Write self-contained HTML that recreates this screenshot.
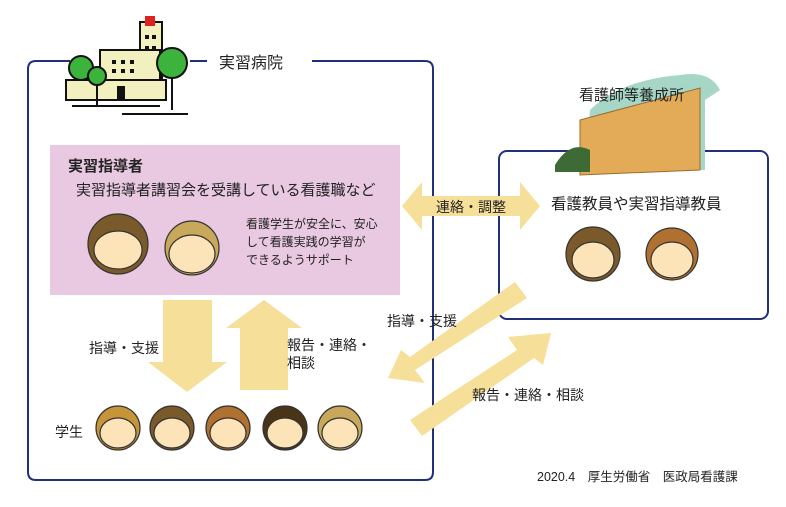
<!DOCTYPE html>
<html><head><meta charset="utf-8"><style>
body{margin:0;background:#fff;width:786px;height:502px;overflow:hidden}
text{font-family:"Liberation Sans","Noto Sans CJK JP",sans-serif;fill:#222}
</style></head><body>
<svg width="786" height="502" viewBox="0 0 786 502">
<path d="M70 61 H36 Q28 61 28 69 V472 Q28 480 36 480 H425 Q433 480 433 472 V69 Q433 61 425 61 H312" fill="none" stroke="#22307a" stroke-width="2"/>
<line x1="190" y1="61" x2="207" y2="61" stroke="#22307a" stroke-width="2"/>
<text x="219" y="68" font-size="16">実習病院</text>
<g stroke="#111" stroke-width="2">
<rect x="140" y="22" width="22" height="70" fill="#f3f0bf"/>
<rect x="100" y="50" width="60" height="42" fill="#f3f0bf"/>
<rect x="66" y="80" width="100" height="20" fill="#f3f0bf"/>
<line x1="72" y1="106" x2="160" y2="106"/><line x1="122" y1="114" x2="188" y2="114"/>
<line x1="172" y1="70" x2="172" y2="110"/>
<circle cx="172" cy="63" r="15" fill="#3cb33c"/>
<circle cx="81" cy="68" r="12" fill="#3cb33c"/>
<line x1="97" y1="86" x2="97" y2="106"/>
<circle cx="97" cy="76" r="9" fill="#3cb33c"/>
</g>
<rect x="145" y="16" width="10" height="10" fill="#d22"/>
<g fill="#111"><rect x="112" y="60" width="4" height="4"/><rect x="121" y="60" width="4" height="4"/><rect x="130" y="60" width="4" height="4"/><rect x="112" y="69" width="4" height="4"/><rect x="121" y="69" width="4" height="4"/><rect x="130" y="69" width="4" height="4"/><rect x="145" y="35" width="4" height="4"/><rect x="152" y="35" width="4" height="4"/><rect x="145" y="46" width="4" height="4"/><rect x="152" y="46" width="4" height="4"/><rect x="117" y="86" width="8" height="14"/></g>
<rect x="50" y="145" width="350" height="150" fill="#e8c9e1"/>
<text x="68" y="171" font-size="15" font-weight="bold">実習指導者</text>
<text x="76" y="195" font-size="15">実習指導者講習会を受講している看護職など</text>
<text x="246" y="228" font-size="12">看護学生が安全に、安心</text>
<text x="246" y="246" font-size="12">して看護実践の学習が</text>
<text x="246" y="264" font-size="12">できるようサポート</text>
<rect x="499" y="151" width="269" height="168" rx="8" fill="none" stroke="#22307a" stroke-width="2"/>
<path d="M585 170 L590 110 Q620 80 680 75 Q710 70 720 90 L705 100 L705 170 Z" fill="#a6d6c6"/>
<path d="M580 175 V120 L700 88 V170 Z" fill="#e3ab57" stroke="#9b6b2e"/>
<path d="M555 165 Q570 140 590 150 L590 172 L555 172 Z" fill="#3d6a35"/>
<text x="579" y="100" font-size="15">看護師等養成所</text>
<text x="551" y="209" font-size="15.5">看護教員や実習指導教員</text>
<g fill="#f6df99">
<path d="M402 206 L422 182 V196 H520 V182 L540 206 L520 230 V216 H422 V230 Z"/>
<path d="M163 300 H212 V362 H227 L187 392 L148 362 H163 Z"/>
<path d="M240 390 H288 V328 H302 L264 300 L226 328 H240 Z"/>
<path d="M515 282 L527 298 L415 370 L425 383 L388 378 L401 350 L410 357 Z"/>
<path d="M422 436 L410 420 L517 350 L508 337 L551 333 L543 365 L534 358 Z"/>
</g>
<text x="436" y="212" font-size="14">連絡・調整</text>
<text x="89" y="353" font-size="14">指導・支援</text>
<text x="287" y="350" font-size="14">報告・連絡・</text>
<text x="287" y="368" font-size="14">相談</text>
<text x="387" y="326" font-size="14">指導・支援</text>
<text x="472" y="400" font-size="14">報告・連絡・相談</text>
<text x="55" y="437" font-size="14">学生</text>
<text x="537" y="481" font-size="12.5">2020.4　厚生労働省　医政局看護課</text>
<g stroke="#333" stroke-width="1.2">
<g transform="translate(118,244)"><circle r="30" fill="#7a5a2a"/><ellipse cy="6" rx="24" ry="19" fill="#fde3b8"/></g>
<g transform="translate(192,248)"><circle r="27" fill="#c8a85a"/><ellipse cy="6" rx="23" ry="19" fill="#fde3b8"/></g>
<g transform="translate(593,254)"><circle r="27" fill="#7a5a2a"/><ellipse cy="6" rx="21" ry="18" fill="#fde3b8"/></g>
<g transform="translate(672,254)"><circle r="26" fill="#b07030"/><ellipse cy="6" rx="21" ry="18" fill="#fde3b8"/></g>
<g transform="translate(118,428)"><circle r="22" fill="#c8943a"/><ellipse cy="5" rx="18" ry="15" fill="#fde3b8"/></g>
<g transform="translate(172,428)"><circle r="22" fill="#7a5a2a"/><ellipse cy="5" rx="18" ry="15" fill="#fde3b8"/></g>
<g transform="translate(228,428)"><circle r="22" fill="#b07030"/><ellipse cy="5" rx="18" ry="15" fill="#fde3b8"/></g>
<g transform="translate(285,428)"><circle r="22" fill="#4a3418"/><ellipse cy="5" rx="18" ry="15" fill="#fde3b8"/></g>
<g transform="translate(340,428)"><circle r="22" fill="#c8a85a"/><ellipse cy="5" rx="18" ry="15" fill="#fde3b8"/></g>
</g>
</svg>
</body></html>
